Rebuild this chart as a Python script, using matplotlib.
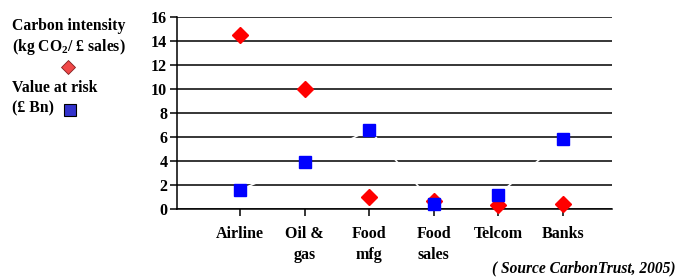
import matplotlib.pyplot as plt
import matplotlib.transforms as mtransforms

sectors = ["Airline", "Oil &\ngas", "Food\nmfg", "Food\nsales", "Telcom", "Banks"]
carbon_intensity = [14.5, 10.0, 1.0, 0.7, 0.3, 0.4]
value_at_risk = [1.6, 3.9, 6.6, 0.4, 1.2, 5.8]
y_ticks = [0, 2, 4, 6, 8, 10, 12, 14, 16]

plt.rcParams['font.family'] = ['Liberation Serif', 'DejaVu Serif']
plt.rcParams['font.weight'] = 'bold'
plt.rcParams['mathtext.fontset'] = 'custom'
plt.rcParams['mathtext.rm'] = 'Liberation Serif:bold'
plt.rcParams['mathtext.it'] = 'Liberation Serif:bold'
plt.rcParams['mathtext.bf'] = 'Liberation Serif:bold'

fig = plt.figure(figsize=(6.79, 2.77), dpi=100)
ax = fig.add_axes([0.2607, 0.2455, 0.6406, 0.6931])

x = list(range(1, len(sectors) + 1))

for t in y_ticks:
    ax.axhline(t, color='black', lw=1.1, zorder=1)

# faint white joining line behind the squares
ax.plot(x, value_at_risk, color='white', lw=1.2, zorder=2)
ax.plot(x, carbon_intensity, 'D', color='#ff0000', ms=8.2, mec='#ff0000', zorder=3, clip_on=False)
ax.plot(x, value_at_risk, 's', color='#0000ff', ms=9, mec='#0000ff', zorder=4, clip_on=False)

ax.set_xlim(0.02, 6.76)
ax.set_ylim(0, 16)
ax.set_yticks(y_ticks)
ax.set_yticklabels([str(t) for t in y_ticks], fontsize=11.5, fontweight='bold')
ax.set_xticks(x)
ax.set_xticklabels(sectors, fontsize=11.5, fontweight='bold', linespacing=1.45, va='top')
shift = mtransforms.ScaledTranslation(3 / 100, 0, fig.dpi_scale_trans)
for lbl in ax.get_xticklabels():
    lbl.set_transform(lbl.get_transform() + shift)
ax.tick_params(axis='y', direction='out', length=5, width=1.1, pad=2)
ax.tick_params(axis='x', direction='out', length=5, width=1.1, pad=7)
for s in ['top', 'right']:
    ax.spines[s].set_visible(False)
ax.spines['left'].set_linewidth(1.1)
ax.spines['bottom'].set_linewidth(1.1)

# legend on the left
fs = 11.3
fig.text(12 / 679, 1 - 30 / 277, "Carbon intensity", fontsize=fs, fontweight='bold')
fig.text(12 / 679, 1 - 51 / 277, "(kg CO$_{2}$/ \u00a3 sales)", fontsize=fs, fontweight='bold')
fig.text(12 / 679, 1 - 92 / 277, "Value at risk", fontsize=fs, fontweight='bold')
fig.text(12 / 679, 1 - 112 / 277, "(\u00a3 Bn)", fontsize=fs, fontweight='bold')
fig.lines.append(plt.Line2D([68 / 679], [1 - 67 / 277], marker='D', ms=7.5, color='#f04848',
                            mec='#802020', mew=0.6, transform=fig.transFigure))
fig.lines.append(plt.Line2D([70 / 679], [1 - 110 / 277], marker='s', ms=9, color='#3333cc',
                            mec='black', mew=0.8, transform=fig.transFigure))

fig.text(675 / 679, 1 - 272 / 277, "( Source CarbonTrust, 2005)", fontsize=11.2,
         fontweight='bold', style='italic', ha='right')

fig.savefig("out.png", dpi=100)
